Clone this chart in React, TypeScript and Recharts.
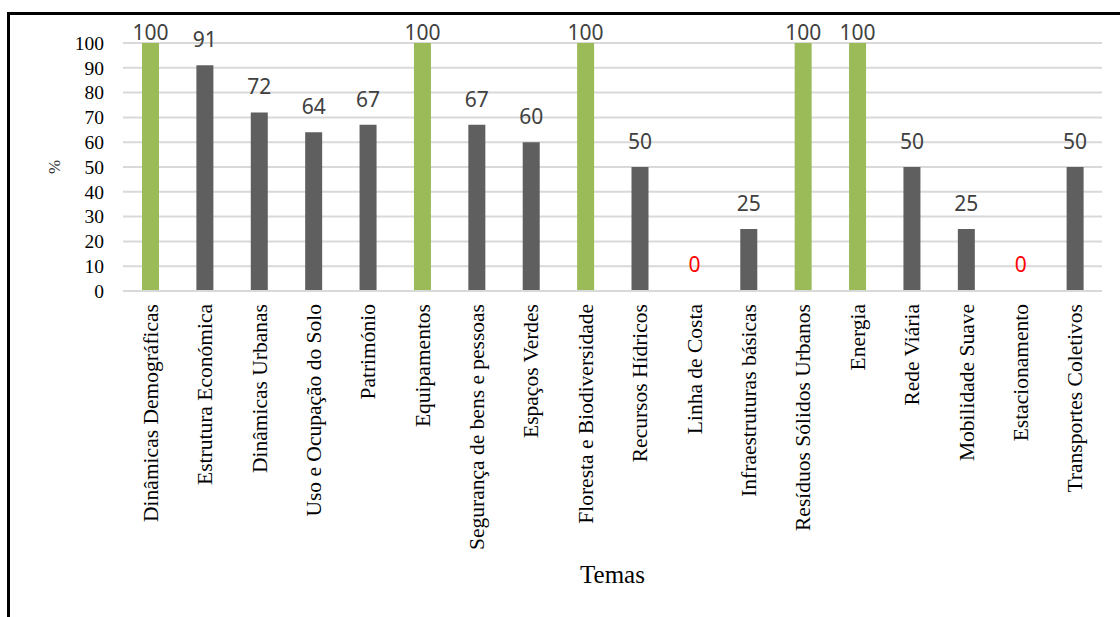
import React from 'react';
import { BarChart, Bar, XAxis, YAxis, CartesianGrid, Cell, LabelList, Label } from 'recharts';

// Temas avaliados e respetiva percentagem
const temas: string[] = [
  'Dinâmicas Demográficas',
  'Estrutura Económica',
  'Dinâmicas Urbanas',
  'Uso e Ocupação do Solo',
  'Património',
  'Equipamentos',
  'Segurança de bens e pessoas',
  'Espaços Verdes',
  'Floresta e Biodiversidade',
  'Recursos Hídricos',
  'Linha de Costa',
  'Infraestruturas básicas',
  'Resíduos Sólidos Urbanos',
  'Energia',
  'Rede Viária',
  'Mobilidade Suave',
  'Estacionamento',
  'Transportes Coletivos',
];

const percentagens: number[] = [100, 91, 72, 64, 67, 100, 67, 60, 100, 50, 0, 25, 100, 100, 50, 25, 0, 50];

const yTicks: number[] = [0, 10, 20, 30, 40, 50, 60, 70, 80, 90, 100];

const data = temas.map((tema, i) => ({ tema, valor: percentagens[i] }));

const GREEN = '#9BBB59';
const GREY = '#5F5F5F';
const SERIF = 'Liberation Serif, Times New Roman, serif';
const SANS = 'Noto Sans, Open Sans, sans-serif';

const MARGIN_TOP = 28;

const CategoryTick = (props: any) => {
  const { x, y, payload } = props;
  return (
    <g transform={`translate(${x},${y})`}>
      <text
        transform="rotate(-90)"
        x={0}
        y={0}
        dy="0.35em"
        textAnchor="end"
        style={{ fontFamily: SERIF }}
        fontSize={21.5}
        fill="#000"
      >
        {payload.value}
      </text>
    </g>
  );
};

const PercentTick = (props: any) => {
  const { x, y, payload } = props;
  return (
    <text
      x={x}
      y={y}
      dy="0.35em"
      textAnchor="end"
      style={{ fontFamily: SERIF }}
      fontSize={19.5}
      fill="#000"
    >
      {payload.value}
    </text>
  );
};

const ValueLabel = (props: any) => {
  const { x, y, width, value } = props;
  const baseline = Math.max(Number(y) - 18, MARGIN_TOP - 3);
  return (
    <text
      x={Number(x) + Number(width) / 2}
      y={baseline}
      textAnchor="middle"
      style={{ fontFamily: SANS }}
      fontSize={21}
      fill={value === 0 ? '#FF0000' : '#404040'}
    >
      {value}
    </text>
  );
};

const YTitle = (props: any) => {
  const vb = props.viewBox || { x: 0, y: 0, width: 0, height: 0 };
  const cx = vb.x + 44;
  const cy = vb.y + vb.height / 2;
  return (
    <text
      x={cx}
      y={cy}
      transform={`rotate(-90, ${cx}, ${cy})`}
      textAnchor="middle"
      dy="0.35em"
      style={{ fontFamily: SERIF }}
      fontSize={17}
      fill="#333"
    >
      %
    </text>
  );
};

const XTitle = (props: any) => {
  const vb = props.viewBox || { x: 0, y: 0, width: 0, height: 0 };
  return (
    <text
      x={vb.x + vb.width / 2}
      y={vb.y + vb.height - 12}
      textAnchor="middle"
      style={{ fontFamily: SERIF }}
      fontSize={25}
      fill="#000"
    >
      Temas
    </text>
  );
};

export default function App() {
  return (
    <div
      style={{
        position: 'fixed',
        left: 7,
        top: 12,
        width: 1113,
        height: 605,
        borderTop: '3px solid #000',
        borderLeft: '3px solid #000',
        boxSizing: 'border-box',
        background: '#fff',
      }}
    >
      <BarChart
        width={1100}
        height={580}
        data={data}
        margin={{ top: MARGIN_TOP, right: 8, bottom: 0, left: 0 }}
      >
        <CartesianGrid vertical={false} stroke="#D9D9D9" strokeWidth={2} />
        <XAxis
          dataKey="tema"
          interval={0}
          height={304}
          tickSize={0}
          tickMargin={13}
          tickLine={false}
          axisLine={{ stroke: '#D9D9D9', strokeWidth: 2 }}
          tick={<CategoryTick />}
        >
          <Label content={<XTitle />} />
        </XAxis>
        <YAxis
          width={113}
          domain={[0, 100]}
          ticks={yTicks}
          interval={0}
          tickSize={0}
          tickMargin={19}
          tickLine={false}
          axisLine={false}
          tick={<PercentTick />}
        >
          <Label content={<YTitle />} />
        </YAxis>
        <Bar dataKey="valor" barSize={17} minPointSize={1} isAnimationActive={false}>
          {data.map((d, i) => (
            <Cell
              key={i}
              fill={d.valor === 100 ? GREEN : d.valor === 0 ? 'transparent' : GREY}
            />
          ))}
          <LabelList dataKey="valor" content={<ValueLabel />} />
        </Bar>
      </BarChart>
    </div>
  );
}
